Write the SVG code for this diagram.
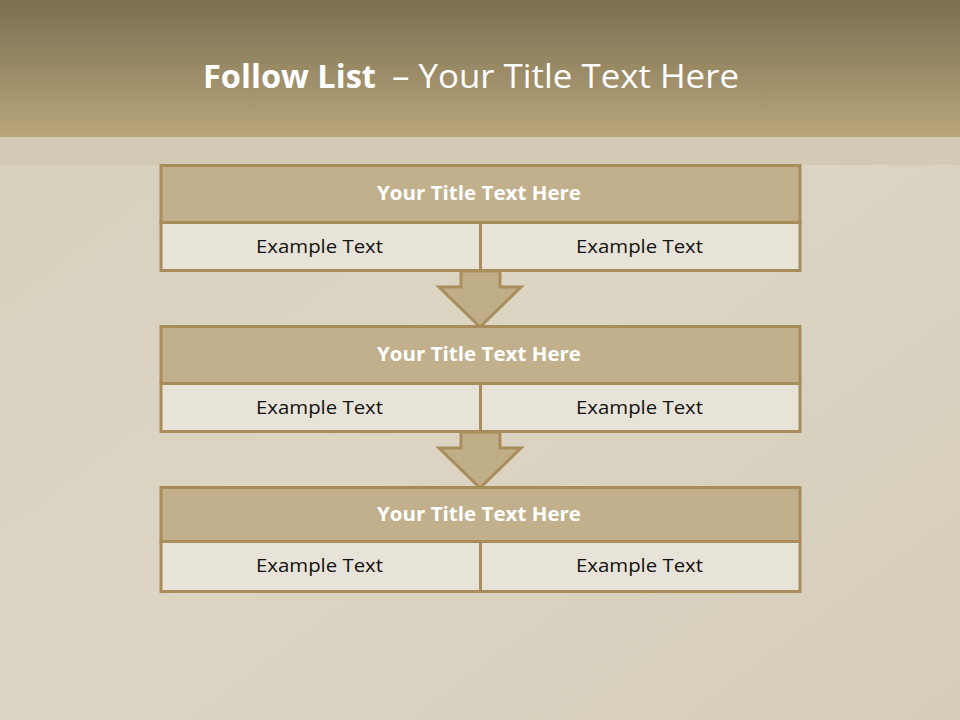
<svg xmlns="http://www.w3.org/2000/svg" width="960" height="720" viewBox="0 0 960 720">
<defs>
<linearGradient id="hdr" x1="0" y1="0" x2="0" y2="1">
<stop offset="0" stop-color="#7b6f51"/>
<stop offset="1" stop-color="#b8a57b"/>
</linearGradient>
<linearGradient id="bg" x1="0" y1="0" x2="1" y2="1">
<stop offset="0" stop-color="#d6cfbb"/>
<stop offset="0.5" stop-color="#dcd5c4"/>
<stop offset="1" stop-color="#d5cdb9"/>
</linearGradient>
<style>
.title{fill:#c1b08b;stroke:#a88c5a;stroke-width:3}
.cell{fill:#e8e3d9;stroke:#a88c5a;stroke-width:3}
.arrow{fill:#bfae88;stroke:#a88c5a;stroke-width:3;stroke-linejoin:miter}
.tt{font-family:"Open Sans",Lato,sans-serif;font-weight:bold;font-size:19px;fill:#ffffff;text-anchor:middle}
.ct{font-family:"Open Sans",Lato,sans-serif;font-size:19px;fill:#111111;text-anchor:middle}
.hd{font-family:"Open Sans",Lato,sans-serif;font-size:32px;fill:#ffffff}
</style>
</defs>
<rect x="0" y="0" width="960" height="720" fill="url(#bg)"/>
<rect x="0" y="137" width="960" height="28" fill="#d3cab5"/>
<rect x="0" y="0" width="960" height="137" fill="url(#hdr)"/>
<text class="hd" x="203" y="88" font-weight="bold" textLength="173" lengthAdjust="spacingAndGlyphs">Follow List</text>
<text class="hd" x="392" y="88" textLength="347" lengthAdjust="spacingAndGlyphs">– Your Title Text Here</text>
<g id="connectors">
<path class="arrow" d="M461,271 L500,271 L500,287 L521,287 L480,327 L439,287 L461,287 Z"/>
<path class="arrow" d="M461,432 L500,432 L500,448 L521,448 L480,488 L439,448 L461,448 Z"/>
</g>
<g id="node1">
<rect class="title" x="161" y="165.5" width="639" height="57"/>
<rect class="cell" x="161" y="222.5" width="319.5" height="48"/>
<rect class="cell" x="480.5" y="222.5" width="319.5" height="48"/>
<text class="tt" x="479" y="200" textLength="204" lengthAdjust="spacingAndGlyphs">Your Title Text Here</text>
<text class="ct" x="319.5" y="253" textLength="127" lengthAdjust="spacingAndGlyphs">Example Text</text>
<text class="ct" x="639.5" y="253" textLength="127" lengthAdjust="spacingAndGlyphs">Example Text</text>
</g>
<g id="node2">
<rect class="title" x="161" y="326.5" width="639" height="57"/>
<rect class="cell" x="161" y="383.5" width="319.5" height="48"/>
<rect class="cell" x="480.5" y="383.5" width="319.5" height="48"/>
<text class="tt" x="479" y="361" textLength="204" lengthAdjust="spacingAndGlyphs">Your Title Text Here</text>
<text class="ct" x="319.5" y="414" textLength="127" lengthAdjust="spacingAndGlyphs">Example Text</text>
<text class="ct" x="639.5" y="414" textLength="127" lengthAdjust="spacingAndGlyphs">Example Text</text>
</g>
<g id="node3">
<rect class="title" x="161" y="487.5" width="639" height="54"/>
<rect class="cell" x="161" y="541.5" width="319.5" height="50"/>
<rect class="cell" x="480.5" y="541.5" width="319.5" height="50"/>
<text class="tt" x="479" y="521" textLength="204" lengthAdjust="spacingAndGlyphs">Your Title Text Here</text>
<text class="ct" x="319.5" y="572" textLength="127" lengthAdjust="spacingAndGlyphs">Example Text</text>
<text class="ct" x="639.5" y="572" textLength="127" lengthAdjust="spacingAndGlyphs">Example Text</text>
</g>
</svg>
